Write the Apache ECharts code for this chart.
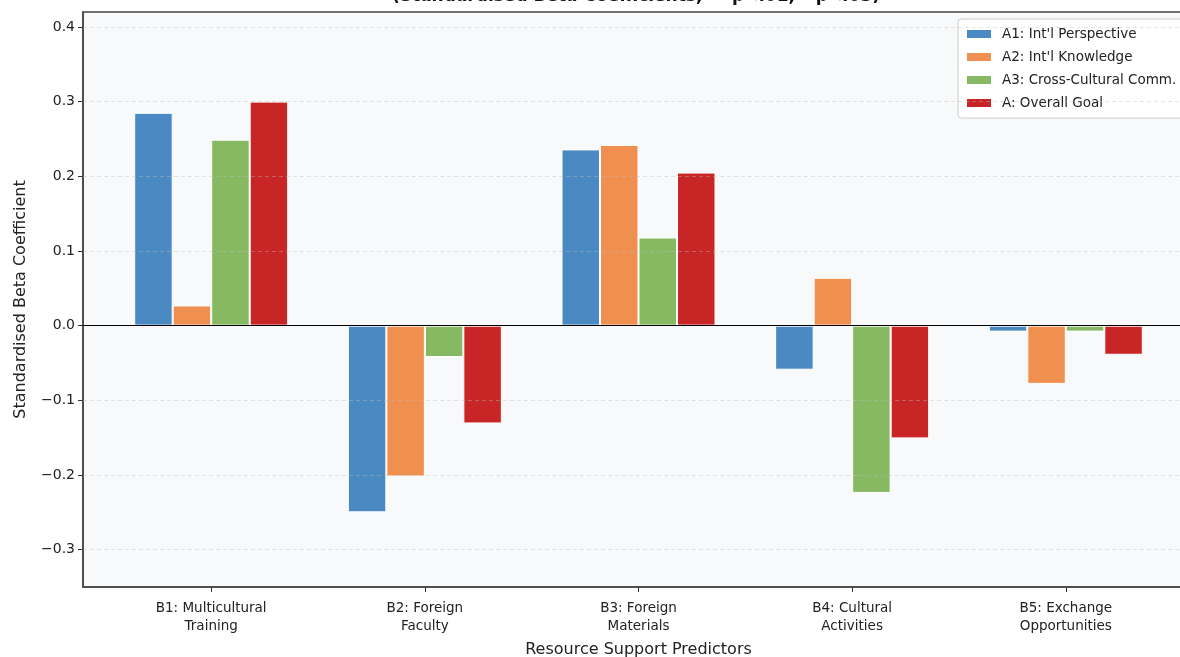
<!DOCTYPE html>
<html>
<head>
<meta charset="utf-8">
<title>Resource Support Predictors</title>
<script src="https://cdn.jsdelivr.net/npm/echarts@6/dist/echarts.min.js"></script>
<style>
  html, body { margin: 0; padding: 0; background: #fff; }
  #chart { width: 1180px; height: 657px; }
</style>
</head>
<body>
<div id="chart"></div>
<script>
// predictors on the x axis
var categories = [
  'B1: Multicultural\nTraining',
  'B2: Foreign\nFaculty',
  'B3: Foreign\nMaterials',
  'B4: Cultural\nActivities',
  'B5: Exchange\nOpportunities'
];
var seriesNames = ['A1: Int\'l Perspective', 'A2: Int\'l Knowledge', 'A3: Cross-Cultural Comm.', 'A: Overall Goal'];
var a1Values = [0.285, -0.250, 0.236, -0.059, -0.008];
var a2Values = [0.027, -0.202, 0.242, 0.064, -0.078];
var a3Values = [0.249, -0.042, 0.118, -0.224, -0.008];
var aValues  = [0.300, -0.131, 0.205, -0.151, -0.039];
var yTicks = [-0.3, -0.2, -0.1, 0.0, 0.1, 0.2, 0.3, 0.4];

var colors = ['#4a89c2', '#ef9050', '#86b962', '#c82626'];
var allValues = [a1Values, a2Values, a3Values, aValues];
var fontMain = 'DejaVu Sans';

function fmtTick(v) {
  return v < 0 ? '\u2212' + Math.abs(v).toFixed(1) : v.toFixed(1);
}

var chart = echarts.init(document.getElementById('chart'));

var series = allValues.map(function (vals, si) {
  return {
    name: seriesNames[si],
    type: 'bar',
    barWidth: 38.5,
    barGap: '0%',
    itemStyle: { color: colors[si], borderColor: '#ffffff', borderWidth: 1 },
    data: vals.map(function (v, i) { return [i, v]; })
  };
});

// grid lines + zero line, drawn over the bars like the original
series[3].markLine = {
  silent: true,
  symbol: 'none',
  label: { show: false },
  animation: false,
  data: yTicks.filter(function (v) { return v !== 0; }).map(function (v) {
    return { yAxis: v, lineStyle: { color: 'rgba(190,190,190,0.5)', type: [4, 3], width: 0.8 } };
  }).concat([{ yAxis: 0, lineStyle: { color: '#000', type: 'solid', width: 1.2 } }])
};

var option = {
  animation: false,
  backgroundColor: '#ffffff',
  title: {
    text: '(Standardised Beta Coefficients, ** p<.01, * p<.05)',
    left: 631,
    textAlign: 'center',
    top: -17,
    textStyle: { fontFamily: fontMain, fontSize: 17, fontWeight: 'bold', color: '#111' }
  },
  legend: {
    orient: 'vertical',
    left: 958,
    top: 19,
    padding: [8, 10, 8, 7],
    itemWidth: 26,
    itemHeight: 10,
    itemGap: 9,
    icon: 'rect',
    backgroundColor: '#ffffff',
    borderColor: '#cccccc',
    borderWidth: 1,
    borderRadius: 3,
    textStyle: { fontFamily: fontMain, fontSize: 13.5, color: '#222', padding: [0, 0, 0, 5] },
    data: seriesNames
  },
  grid: {
    left: 83,
    right: -14,
    top: 12,
    bottom: 70,
    outerBoundsMode: 'none',
    show: true,
    backgroundColor: '#f8f9fa',
    borderColor: '#444',
    borderWidth: 1.5
  },
  xAxis: {
    type: 'value',
    min: -0.6,
    max: 4.6,
    name: 'Resource Support Predictors',
    nameLocation: 'middle',
    nameGap: 55,
    nameTextStyle: { fontFamily: fontMain, fontSize: 16, color: '#222' },
    axisLine: { show: true, onZero: false, lineStyle: { color: '#444', width: 1.5 } },
    axisTick: { show: true, customValues: [0, 1, 2, 3, 4], length: 5, lineStyle: { color: '#333' } },
    axisLabel: {
      customValues: [0, 1, 2, 3, 4],
      formatter: function (v) { return categories[Math.round(v)]; },
      fontFamily: fontMain,
      fontSize: 13.5,
      lineHeight: 18,
      color: '#222',
      margin: 12
    },
    splitLine: { show: false }
  },
  yAxis: {
    type: 'value',
    min: -0.35,
    max: 0.42,
    name: 'Standardised Beta Coefficient',
    nameLocation: 'middle',
    nameGap: 54,
    nameTextStyle: { fontFamily: fontMain, fontSize: 16, color: '#222' },
    axisLine: { show: true, onZero: false, lineStyle: { color: '#444', width: 1.5 } },
    axisTick: { show: true, customValues: yTicks, length: 5, lineStyle: { color: '#333' } },
    axisLabel: {
      customValues: yTicks,
      formatter: fmtTick,
      fontFamily: fontMain,
      fontSize: 14,
      color: '#222',
      margin: 8
    },
    splitLine: { show: false }
  },
  series: series
};

chart.setOption(option);
</script>
</body>
</html>
